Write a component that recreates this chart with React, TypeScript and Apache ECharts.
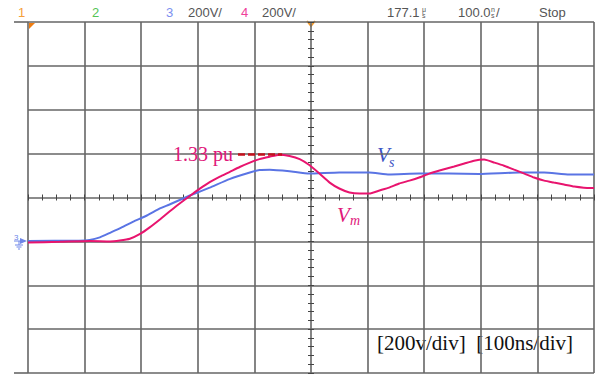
import React, { useEffect, useRef } from "react";
import * as echarts from "echarts";

// Channel 3 (Vs) samples: time in ns, value in V (ground = 0 V)
const timeNsVs = [0, 90, 109, 127, 145, 162, 185, 210, 233, 250, 286, 321, 356, 392, 409, 427, 462, 497, 550, 603, 638, 691, 744, 797, 868, 912, 956, 1000];
const vsVolts = [2, 3, 6, 18, 39, 59, 89, 118, 150, 168, 209, 245, 284, 314, 325, 327, 320, 309, 314, 314, 305, 309, 309, 307, 314, 314, 305, 305];

// Channel 4 (Vm)
const timeNsVm = [0, 56, 109, 145, 162, 180, 198, 215, 233, 250, 268, 286, 303, 321, 339, 356, 374, 392, 409, 427, 444, 462, 480, 497, 515, 533, 550, 568, 586, 603, 621, 638, 656, 674, 691, 709, 727, 753, 771, 788, 806, 824, 841, 859, 877, 894, 912, 929, 947, 965, 982, 1000];
const vmVolts = [-5, -2, 2, 0, 4, 12, 34, 64, 100, 136, 173, 207, 239, 270, 295, 316, 339, 359, 375, 386, 395, 389, 375, 348, 309, 268, 241, 223, 218, 218, 232, 245, 264, 277, 291, 309, 323, 341, 355, 368, 373, 359, 345, 327, 309, 291, 277, 268, 259, 250, 245, 243];

// Screen scales: 10 x 100 ns, 8 x 200 V, ground one division below centre
const timeMinNs = 0;
const timeMaxNs = 1000;
const timeDivNs = 100;
const timeMinorNs = 25;
const voltMin = -600;
const voltMax = 1000;
const voltDiv = 200;
const voltMinor = 40;

// 1 pu = steady state of Vs
const steadyVs = 300;
const peakPu = 1.33;
const peakMarkStartNs = 371;
const peakMarkEndNs = 449;

const headerTexts = ["1", "2", "3", "200V/", "4", "200V/", "177.1", "100.0", "Stop"];
const footerText = "[200v/div]  [100ns/div]";

export default function App() {
  const ref = useRef<HTMLDivElement>(null);

  useEffect(() => {
    if (!ref.current) return;
    const chart = echarts.init(ref.current, null, { renderer: "svg" });

    const vsData = timeNsVs.map((t, i) => [t, vsVolts[i]]);
    const vmData = timeNsVm.map((t, i) => [t, vmVolts[i]]);

    const gridColor = "#666666";
    const hdrFont = "'Liberation Sans', Arial, sans-serif";
    const serif = "'Liberation Serif', 'Times New Roman', serif";
    const hdrGray = "#555";
    const pink = "#e0177a";
    const blueLbl = "#3d55c4";

    const hdr = (text: string, x: number, color: string) => ({
      type: "text",
      x,
      y: 12,
      silent: true,
      style: { text, fill: color, font: `13px ${hdrFont}`, textAlign: "left", textVerticalAlign: "middle" },
    });

    const option: any = {
      animation: false,
      backgroundColor: "#ffffff",
      grid: { left: 28, top: 22, width: 566, height: 351 },
      xAxis: [
        {
          type: "value",
          min: timeMinNs,
          max: timeMaxNs,
          interval: timeDivNs,
          axisLine: { show: false },
          axisTick: { show: false },
          axisLabel: { show: false },
          splitLine: { show: true, lineStyle: { color: gridColor, width: 1.6 } },
        },
        {
          type: "value",
          min: timeMinNs,
          max: timeMaxNs,
          interval: timeMinorNs,
          position: "bottom",
          offset: -178.5,
          axisLine: { show: false, onZero: false },
          axisTick: { show: true, length: 6, lineStyle: { color: "#444", width: 1 } },
          axisLabel: { show: false },
          splitLine: { show: false },
        },
      ],
      yAxis: [
        {
          type: "value",
          min: voltMin,
          max: voltMax,
          interval: voltDiv,
          axisLine: { show: false },
          axisTick: { show: false },
          axisLabel: { show: false },
          splitLine: { show: true, lineStyle: { color: gridColor, width: 1.6 } },
        },
        {
          type: "value",
          min: voltMin,
          max: voltMax,
          interval: voltMinor,
          position: "left",
          offset: -286,
          axisLine: { show: false, onZero: false },
          axisTick: { show: true, length: 6, lineStyle: { color: "#444", width: 1 } },
          axisLabel: { show: false },
          splitLine: { show: false },
        },
      ],
      series: [
        {
          name: "Vs",
          type: "line",
          xAxisIndex: 0,
          yAxisIndex: 0,
          data: vsData,
          showSymbol: false,
          smooth: 0.15,
          lineStyle: { color: "#5a74e4", width: 2 },
          z: 3,
        },
        {
          name: "Vm",
          type: "line",
          xAxisIndex: 0,
          yAxisIndex: 0,
          data: vmData,
          showSymbol: false,
          smooth: 0.15,
          lineStyle: { color: "#e8146e", width: 2 },
          z: 4,
          markLine: {
            silent: true,
            symbol: "none",
            lineStyle: { color: "#c4101c", type: [7, 3], width: 2.5 },
            label: {
              show: true,
              position: "start",
              distance: 5,
              formatter: `${peakPu} pu`,
              color: pink,
              fontFamily: serif,
              fontSize: 20,
            },
            data: [[{ coord: [peakMarkStartNs, steadyVs * peakPu] }, { coord: [peakMarkEndNs, steadyVs * peakPu] }]],
          },
        },
      ],
      graphic: [
        { type: "line", silent: true, shape: { x1: 14, y1: 22, x2: 28, y2: 22 }, style: { stroke: gridColor, lineWidth: 1.6 } },
        { type: "line", silent: true, shape: { x1: 14, y1: 373, x2: 28, y2: 373 }, style: { stroke: gridColor, lineWidth: 1.6 } },
        hdr(headerTexts[0], 18, "#f5a03a"),
        hdr(headerTexts[1], 92, "#55c455"),
        hdr(headerTexts[2], 166, "#7d8ff0"),
        hdr(headerTexts[3], 188, hdrGray),
        hdr(headerTexts[4], 241, "#f0409a"),
        hdr(headerTexts[5], 262, hdrGray),
        hdr(headerTexts[6], 387, hdrGray),
        { type: "text", x: 422, y: 9, silent: true, style: { text: "μ", fill: hdrGray, font: `7px ${hdrFont}`, textVerticalAlign: "middle" } },
        { type: "text", x: 422, y: 15, silent: true, style: { text: "s", fill: hdrGray, font: `7px ${hdrFont}`, textVerticalAlign: "middle" } },
        hdr(headerTexts[7], 458, hdrGray),
        { type: "text", x: 491, y: 9, silent: true, style: { text: "n", fill: hdrGray, font: `7px ${hdrFont}`, textVerticalAlign: "middle" } },
        { type: "text", x: 491, y: 15, silent: true, style: { text: "s", fill: hdrGray, font: `7px ${hdrFont}`, textVerticalAlign: "middle" } },
        { type: "text", x: 496, y: 12, silent: true, style: { text: "/", fill: hdrGray, font: `13px ${hdrFont}`, textVerticalAlign: "middle" } },
        hdr(headerTexts[8], 539, hdrGray),
        { type: "polygon", silent: true, shape: { points: [[29, 23], [35, 23], [29, 29]] }, style: { fill: "#f07d10" } },
        { type: "polyline", silent: true, shape: { points: [[307, 21], [311, 26], [315, 21]] }, style: { stroke: "#f39a2a", lineWidth: 2, fill: "none" } },
        { type: "polygon", silent: true, shape: { points: [[20, 238], [27, 241], [20, 244]] }, style: { fill: "#6d85e8" } },
        { type: "line", silent: true, shape: { x1: 14, y1: 241, x2: 21, y2: 241 }, style: { stroke: "#6d85e8", lineWidth: 1 } },
        { type: "text", x: 14, y: 237, silent: true, style: { text: "3", fill: "#6d85e8", font: `8px ${hdrFont}`, textVerticalAlign: "middle" } },
        { type: "line", silent: true, shape: { x1: 19, y1: 241, x2: 19, y2: 245 }, style: { stroke: "#6d85e8", lineWidth: 1 } },
        { type: "line", silent: true, shape: { x1: 15, y1: 245, x2: 23, y2: 245 }, style: { stroke: "#6d85e8", lineWidth: 1 } },
        { type: "line", silent: true, shape: { x1: 16.5, y1: 247, x2: 21.5, y2: 247 }, style: { stroke: "#6d85e8", lineWidth: 1 } },
        { type: "line", silent: true, shape: { x1: 18, y1: 249, x2: 20, y2: 249 }, style: { stroke: "#6d85e8", lineWidth: 1 } },
        { type: "text", x: 377, y: 154.5, silent: true, style: { text: "V", fill: blueLbl, font: `italic 21px ${serif}`, textVerticalAlign: "middle" } },
        { type: "text", x: 389, y: 162, silent: true, style: { text: "s", fill: blueLbl, font: `italic 14px ${serif}`, textVerticalAlign: "middle" } },
        { type: "text", x: 337, y: 214.5, silent: true, style: { text: "V", fill: pink, font: `italic 21px ${serif}`, textVerticalAlign: "middle" } },
        { type: "text", x: 350, y: 220, silent: true, style: { text: "m", fill: pink, font: `italic 14px ${serif}`, textVerticalAlign: "middle" } },
        { type: "text", x: 377, y: 343, silent: true, style: { text: footerText, fill: "#111", font: `21px ${serif}`, textVerticalAlign: "middle" } },
      ],
    };

    chart.setOption(option);
    return () => chart.dispose();
  }, []);

  return (
    <div
      ref={ref}
      style={{ position: "absolute", left: 0, top: 0, width: 595, height: 375, background: "#fff" }}
    />
  );
}
